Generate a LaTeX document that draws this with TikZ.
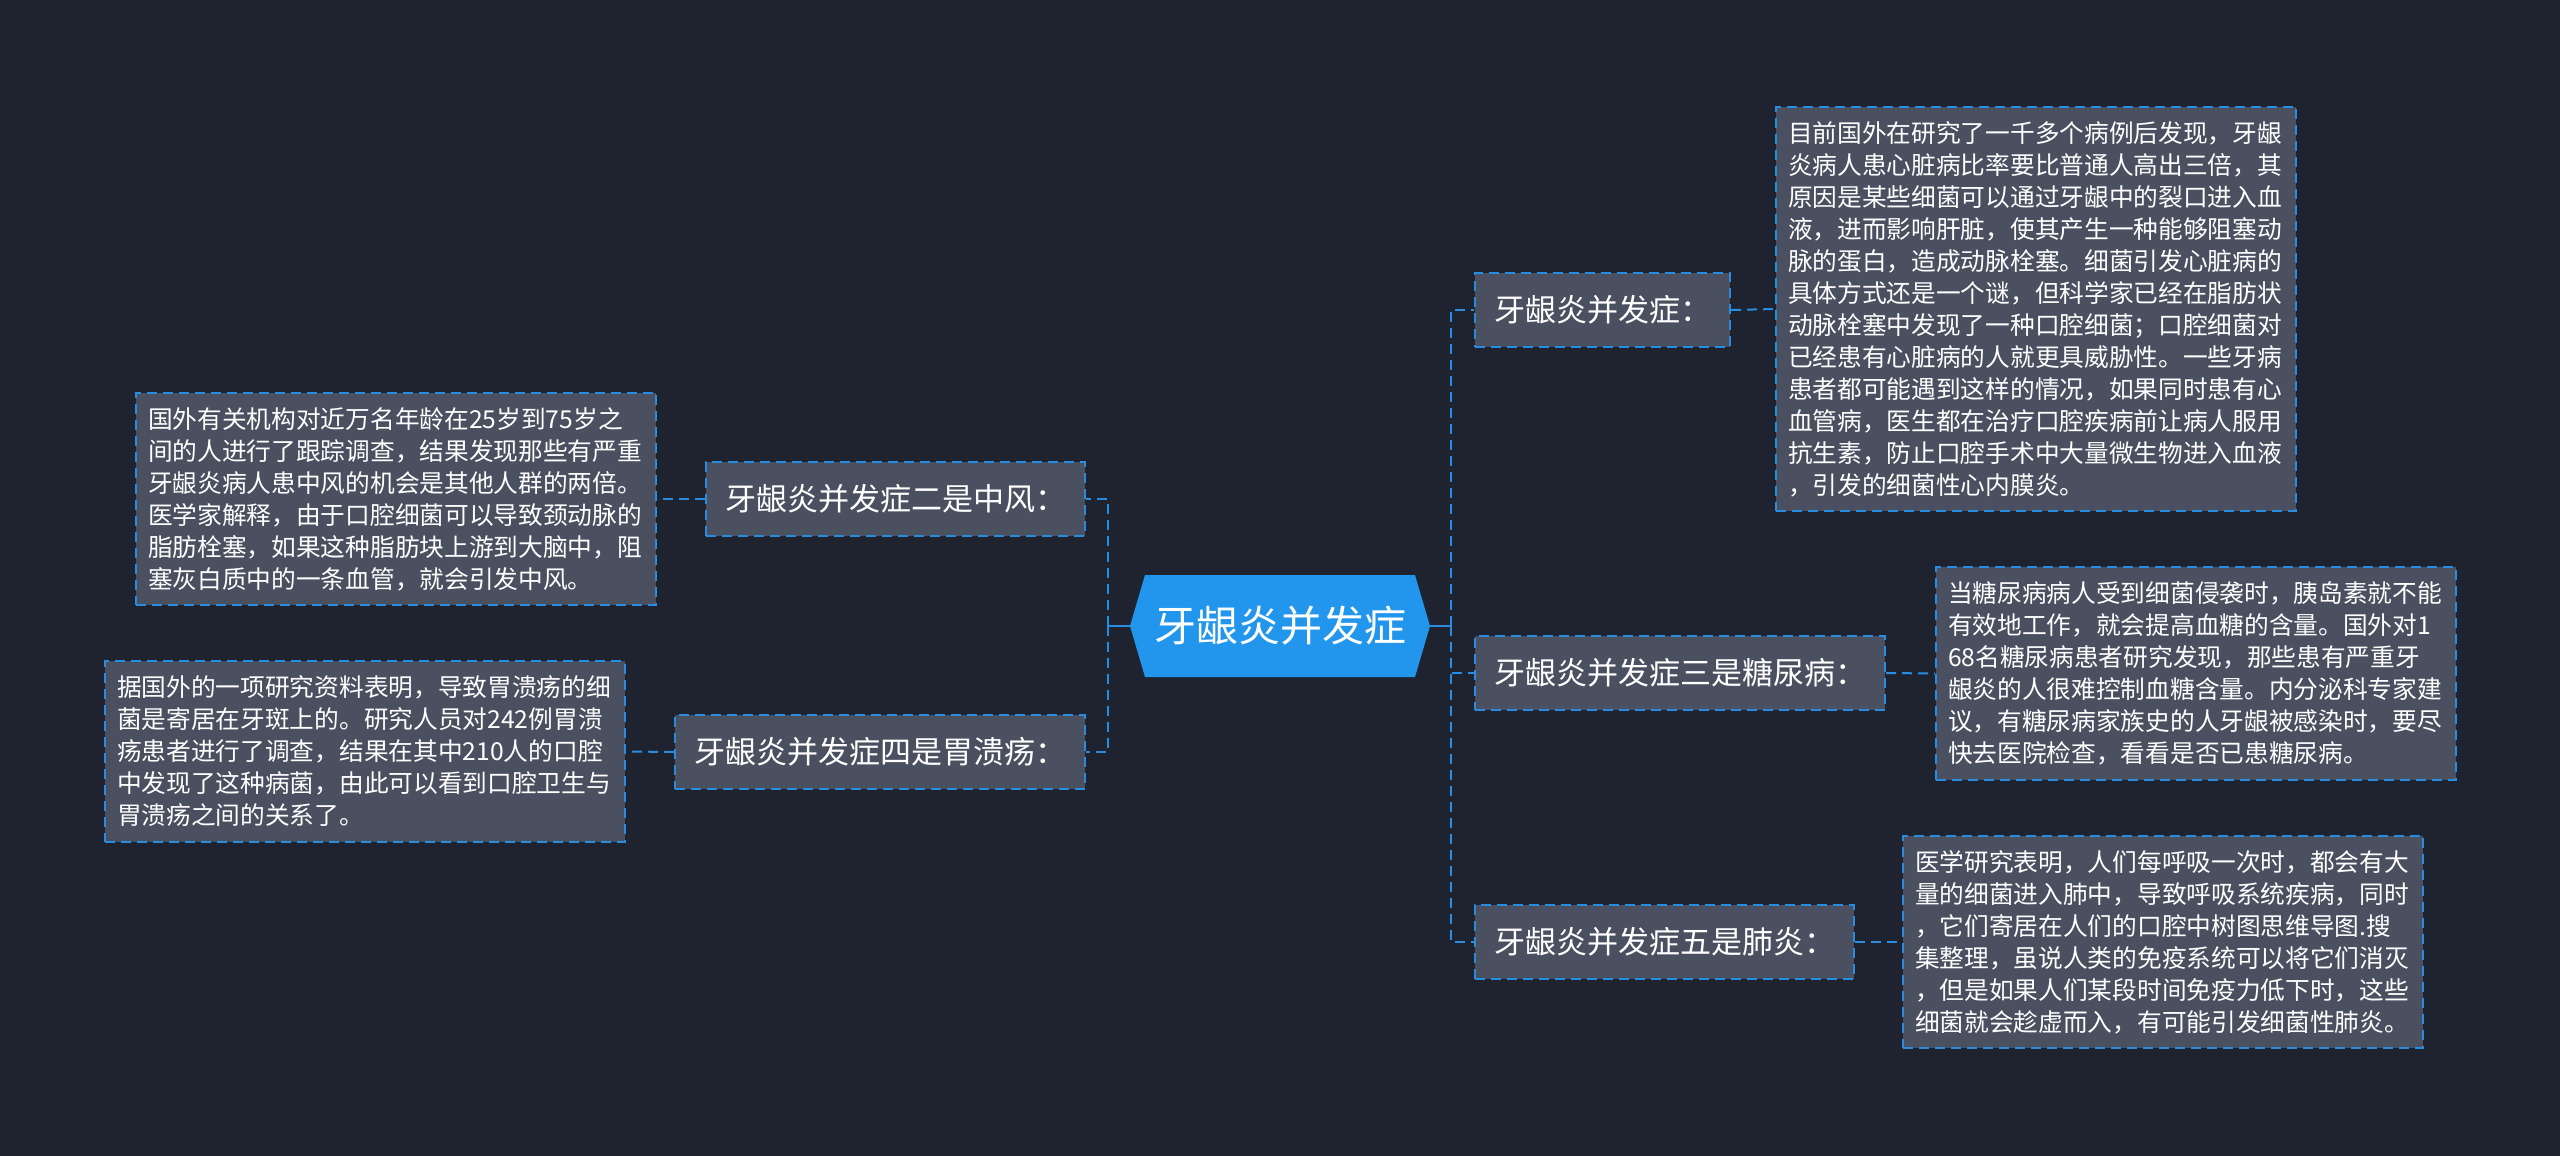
\documentclass[tikz,border=0pt]{standalone}
\usepackage{fontspec}
\setmainfont{Noto Sans CJK SC}
\definecolor{bgdark}{RGB}{31,35,48}
\definecolor{boxgrey}{RGB}{74,80,96}
\definecolor{linkblue}{RGB}{40,140,225}
\definecolor{hubblue}{RGB}{33,150,236}
\tikzset{
  hub/.style={fill=bgdark, minimum width=150pt, minimum height=51pt, inner sep=0pt,
    text=white, font=\fontsize{21}{24}\selectfont,
    path picture={\fill[hubblue] (path picture bounding box.west)
      -- ([xshift=7.5pt]path picture bounding box.north west)
      -- ([xshift=-7.5pt]path picture bounding box.north east)
      -- (path picture bounding box.east)
      -- ([xshift=-7.5pt]path picture bounding box.south east)
      -- ([xshift=7.5pt]path picture bounding box.south west) -- cycle;}},
  topic/.style={draw=linkblue, line width=1pt, dash pattern=on 5pt off 3pt, fill=boxgrey,
    text=white, font=\fontsize{15.5}{18}\selectfont, minimum height=37pt, inner xsep=9.5pt},
  detail/.style={draw=linkblue, line width=1pt, dash pattern=on 5pt off 3pt, fill=boxgrey,
    text=white, font=\fontsize{12.35}{16}\selectfont, text width=248pt, align=left,
    inner xsep=6pt, inner ysep=7.3pt},
  link/.style={draw=linkblue, line width=1pt, dash pattern=on 5pt off 3pt},
  hubline/.style={draw=linkblue, line width=1.2pt}
}
\begin{document}
\begin{tikzpicture}[x=0.5pt, y=-0.5pt]
	\fill[bgdark] (0,0) rectangle (2560,1156);
	\useasboundingbox (0,0) rectangle (2560,1156);

	\node[hub] (hub) at (1280,626) {牙龈炎并发症};
	\coordinate (ltrunk) at (1108,626);
	\coordinate (rtrunk) at (1451,626);

	\node[topic, anchor=west] (r1) at (1474,310) {牙龈炎并发症：};
	\node[topic, anchor=west] (r2) at (1474,673) {牙龈炎并发症三是糖尿病：};
	\node[topic, anchor=west] (r3) at (1474,942) {牙龈炎并发症五是肺炎：};
	\node[topic, anchor=east] (l1) at (1086,499) {牙龈炎并发症二是中风：};
	\node[topic, anchor=east] (l2) at (1086,752) {牙龈炎并发症四是胃溃疡：};

	\node[detail, anchor=west] (r1d) at (1775,309) {目前国外在研究了一千多个病例后发现，牙龈\\炎病人患心脏病比率要比普通人高出三倍，其\\原因是某些细菌可以通过牙龈中的裂口进入血\\液，进而影响肝脏，使其产生一种能够阻塞动\\脉的蛋白，造成动脉栓塞。细菌引发心脏病的\\具体方式还是一个谜，但科学家已经在脂肪状\\动脉栓塞中发现了一种口腔细菌；口腔细菌对\\已经患有心脏病的人就更具威胁性。一些牙病\\患者都可能遇到这样的情况，如果同时患有心\\血管病，医生都在治疗口腔疾病前让病人服用\\抗生素，防止口腔手术中大量微生物进入血液\\，引发的细菌性心内膜炎。};
	\node[detail, anchor=west] (r2d) at (1935,673.5) {当糖尿病病人受到细菌侵袭时，胰岛素就不能\\有效地工作，就会提高血糖的含量。国外对1\\68名糖尿病患者研究发现，那些患有严重牙\\龈炎的人很难控制血糖含量。内分泌科专家建\\议，有糖尿病家族史的人牙龈被感染时，要尽\\快去医院检查，看看是否已患糖尿病。};
	\node[detail, anchor=west] (r3d) at (1902,942) {医学研究表明，人们每呼吸一次时，都会有大\\量的细菌进入肺中，导致呼吸系统疾病，同时\\，它们寄居在人们的口腔中树图思维导图.搜\\集整理，虽说人类的免疫系统可以将它们消灭\\，但是如果人们某段时间免疫力低下时，这些\\细菌就会趁虚而入，有可能引发细菌性肺炎。};
	\node[detail, anchor=east] (l1d) at (657,499) {国外有关机构对近万名年龄在25岁到75岁之\\间的人进行了跟踪调查，结果发现那些有严重\\牙龈炎病人患中风的机会是其他人群的两倍。\\医学家解释，由于口腔细菌可以导致颈动脉的\\脂肪栓塞，如果这种脂肪块上游到大脑中，阻\\塞灰白质中的一条血管，就会引发中风。};
	\node[detail, anchor=east] (l2d) at (626,751.5) {据国外的一项研究资料表明，导致胃溃疡的细\\菌是寄居在牙斑上的。研究人员对242例胃溃\\疡患者进行了调查，结果在其中210人的口腔\\中发现了这种病菌，由此可以看到口腔卫生与\\胃溃疡之间的关系了。};

	\draw[hubline] (hub.west) -- (ltrunk);
	\draw[hubline] (hub.east) -- (rtrunk);
	\draw[link] (ltrunk) |- (l1.east);
	\draw[link] (ltrunk) |- (l2.east);
	\draw[link] (rtrunk) |- (r1.west);
	\draw[link] (rtrunk) |- (r2.west);
	\draw[link] (rtrunk) |- (r3.west);
	\draw[link] (r1.east) -- (r1d.west);
	\draw[link] (r2.east) -- (r2d.west);
	\draw[link] (r3.east) -- (r3d.west);
	\draw[link] (l1.west) -- (l1d.east);
	\draw[link] (l2.west) -- (l2d.east);
\end{tikzpicture}
\end{document}
